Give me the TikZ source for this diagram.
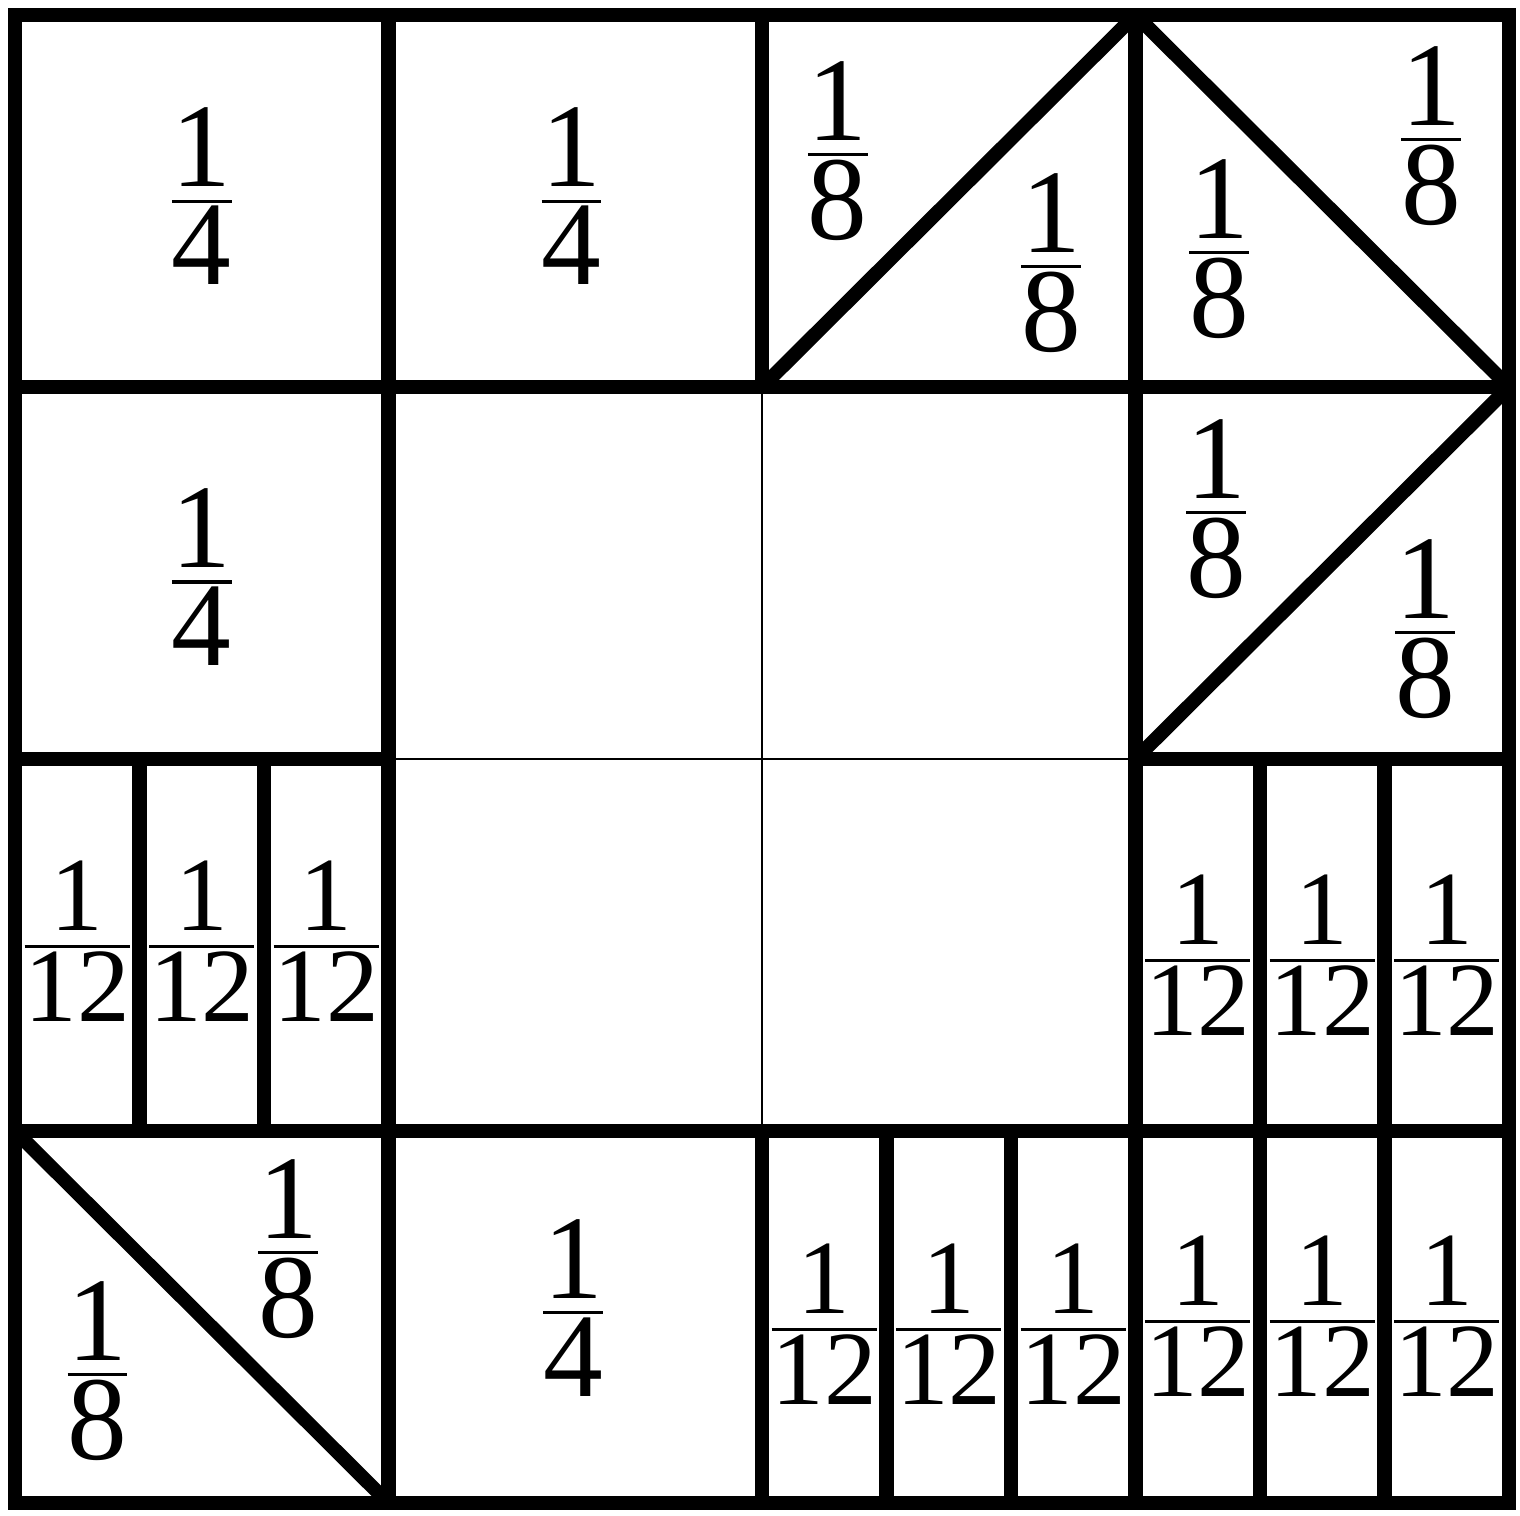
\documentclass[tikz,border=0pt]{standalone}
\usepackage{fontspec}
\setmainfont{Liberation Serif}
\usepackage{tikz}
\setlength{\arrayrulewidth}{0.9pt}
\newcommand{\fr}[2]{\begin{tabular}{@{}c@{}}#1\\\hline\noalign{\vskip 1pt}#2\end{tabular}}

\begin{document}
\begin{tikzpicture}[
  x=3.735cm, y=3.72cm,
  heavy/.style={line width=4pt, line cap=rect, line join=miter, draw=black},
  slash/.style={line width=4pt, line cap=butt, draw=black},
  light/.style={line width=0.8pt, draw=black},
  part/.style={inner sep=0pt, yshift=-0.5pt, font=\fontsize{34}{12}\selectfont},
  twelfth/.style={part, font=\fontsize{30}{14}\selectfont}
]
\useasboundingbox (-0.15cm,-0.13cm) rectangle ([xshift=0.11cm,yshift=0.15cm]4,4);

% center block, thin lines
\draw[light] (2,1) -- (2,3);
\draw[light] (1,2) -- (3,2);

% diagonals
\draw[slash] (2,3) -- (3,4);
\draw[slash] (3,4) -- (4,3);
\draw[slash] (3,2) -- (4,3);
\draw[slash] (0,1) -- (1,0);

% frame and thick cell borders
\draw[heavy] (0,0) rectangle (4,4);
\draw[heavy] (0,1) -- (4,1);
\draw[heavy] (0,3) -- (4,3);
\draw[heavy] (1,0) -- (1,4);
\draw[heavy] (3,0) -- (3,4);
\draw[heavy] (0,2) -- (1,2);
\draw[heavy] (3,2) -- (4,2);
\draw[heavy] (2,0) -- (2,1);
\draw[heavy] (2,3) -- (2,4);

% strips of twelfths
\foreach \cx/\cy in {0/1, 3/1, 2/0, 3/0}
  \foreach \k in {1,2}
    \draw[heavy] (\cx+\k/3,\cy) -- (\cx+\k/3,\cy+1);

% quarters
\node[part] (q1) at (0.5,3.5) {\fr{1}{4}};
\node[part] (q2) at (1.49,3.5) {\fr{1}{4}};
\node[part] (q3) at (0.5,2.476) {\fr{1}{4}};
\node[part] (q4) at (1.494,0.513) {\fr{1}{4}};

% eighths
\foreach \px/\py [count=\i] in {2.203/3.624, 2.774/3.323, 3.791/3.664, 3.224/3.36,
    3.216/2.661, 3.775/2.339, 0.731/0.672, 0.221/0.344}
  \node[part] (e\i) at (\px,\py) {\fr{1}{8}};

% twelfths
\foreach \cx/\py [count=\j] in {0/1.495, 3/1.457, 2/0.465, 3/0.487}
  \foreach \k in {0,1,2}
    \node[twelfth] (t\j\k) at (\cx+\k/3+1/6,\py) {\fr{1}{12}};

\end{tikzpicture}
\end{document}
